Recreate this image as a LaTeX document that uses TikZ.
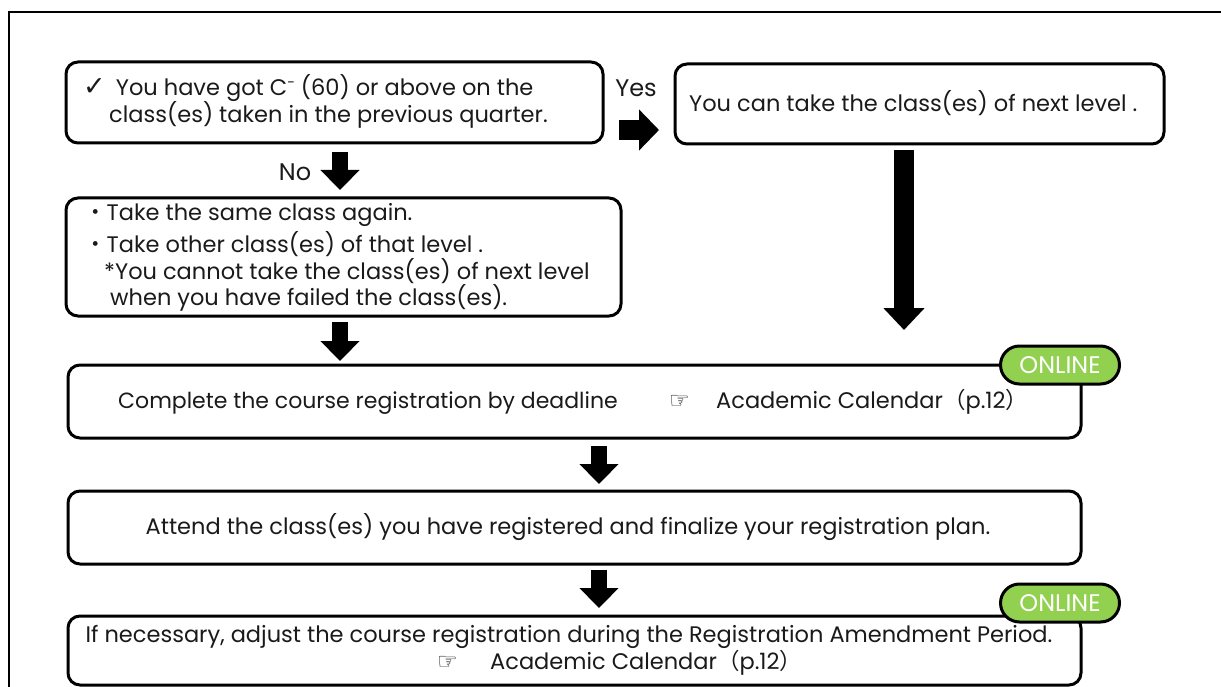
\documentclass[tikz,border=0pt]{standalone}
\usepackage{fontspec}
\setmainfont{Poppins}
\newfontfamily\symf{DejaVu Sans}
\newfontfamily\cjkf{Noto Sans CJK JP}
\usetikzlibrary{arrows.meta,positioning}
\definecolor{txt}{HTML}{1A1A1A}
\definecolor{onl}{HTML}{92D050}
\tikzset{
  boxn/.style={draw=black,line width=3pt,rounded corners=12pt,fill=white,inner sep=0pt},
  lbl/.style={anchor=west,inner sep=0pt,text=txt,font=\fontsize{22.5}{27}\selectfont,align=left},
  ctr/.style={anchor=center,inner sep=0pt,text=txt,font=\fontsize{22.5}{27}\selectfont,align=center},
  badge/.style={draw=black,line width=3pt,rounded corners=19pt,fill=onl,minimum width=119pt,minimum height=38pt,inner sep=0pt,text=white,font=\fontsize{24}{26}\selectfont},
  blockv/.style={line width=16pt,-{Triangle[width=38pt,length=20pt]},shorten >=0pt},
}
\newcommand{\mkbox}[5]{\node[boxn,minimum width=#4-#2,minimum height=#5-#3] (#1) at ({(#2+#4)/2},{(#3+#5)/2}) {};}
\begin{document}
\begin{tikzpicture}[x=1pt,y=-1pt]
\useasboundingbox (0,0) rectangle (1221,687);
\coordinate (ftl) at (9,12);
\coordinate (ftr) at (1221,12);
\coordinate (fbl) at (9,687);
\draw[line width=1.5pt] (fbl) -- (ftl) -- (ftr);

\mkbox{bone}{66}{62}{603}{143}
\mkbox{byes}{675}{64}{1164}{144}
\mkbox{btwo}{66}{198}{621}{316}
\mkbox{bcom}{68}{365}{1081}{438}
\mkbox{batt}{68}{491}{1081}{564}
\mkbox{badj}{68}{616}{1081}{685}

\node[lbl] (tonea) at (83,88) {{\symf\fontsize{27}{27}\selectfont ✓}\hspace{0.45em}You have got C{\fontsize{14}{14}\selectfont\raisebox{0.55em}{-}} (60) or above on the};
\node[lbl] (toneb) at (109,115) {class(es) taken in the previous quarter.};
\node[lbl] (tyes) at (689,103) {You can take the class(es) of next level .};
\node[lbl] (ttwoa) at (84,215) {{\cjkf ・}Take the same class again.};
\node[lbl] (ttwob) at (84,244) {{\cjkf ・}Take other class(es) of that level .};
\node[lbl] (ttwoc) at (104,271) {*You cannot take the class(es) of next level};
\node[lbl] (ttwod) at (110,298) {when you have failed the class(es).};
\node[lbl,font=\fontsize{22}{27}\selectfont] (tcoma) at (118,403) {Complete the course registration by deadline};
\node[lbl] (tcomb) at (669,402) {{\symf\fontsize{23}{23}\selectfont ☞}};
\node[lbl] (tcomc) at (716,402) {Academic Calendar{\cjkf （}p.12{\cjkf ）}};
\node[ctr] (tatt) at (568,527) {Attend the class(es) you have registered and finalize your registration plan.};
\node[ctr] (tadja) at (569,637) {If necessary, adjust the course registration during the Registration Amendment Period.};
\node[lbl] (tadjb) at (437,663) {{\symf\fontsize{23}{23}\selectfont ☞}};
\node[lbl] (tadjc) at (490,663) {Academic Calendar{\cjkf （}p.12{\cjkf ）}};

\node[ctr,font=\fontsize{24}{28}\selectfont] (lyes) at (636,88) {Yes};
\node[ctr,font=\fontsize{24}{28}\selectfont] (lno) at (295,172) {No};

\node[badge] (ona) at (1060,365) {ONLINE};
\node[badge] (onb) at (1060,603) {ONLINE};

\coordinate (a1s) at (340,152);
\coordinate (a1e) at (340,190);
\coordinate (a2s) at (619,130);
\coordinate (a2e) at (659,130);
\coordinate (a3s) at (904,150);
\coordinate (a3e) at (904,330);
\coordinate (a4s) at (340,322);
\coordinate (a4e) at (340,361);
\coordinate (a5s) at (599,446);
\coordinate (a5e) at (599,484);
\coordinate (a6s) at (599,570);
\coordinate (a6e) at (599,608);
\draw[blockv] (a1s) -- (a1e);
\draw[blockv,line width=20pt,-{Triangle[width=40pt,length=20pt]}] (a2s) -- (a2e);
\draw[blockv,line width=20pt,-{Triangle[width=40pt,length=22pt]}] (a3s) -- (a3e);
\draw[blockv] (a4s) -- (a4e);
\draw[blockv] (a5s) -- (a5e);
\draw[blockv] (a6s) -- (a6e);
\end{tikzpicture}
\end{document}
